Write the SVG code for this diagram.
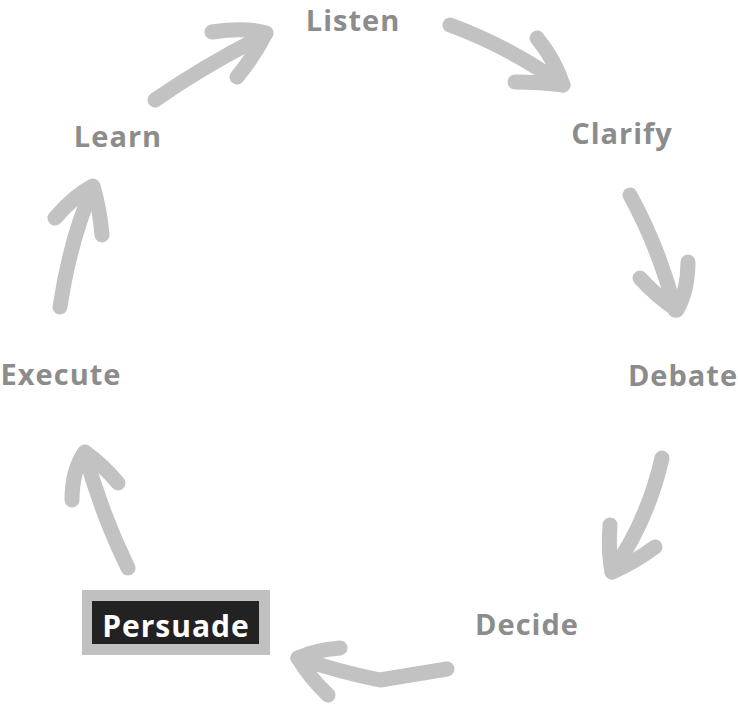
<svg xmlns="http://www.w3.org/2000/svg" width="738" height="704" viewBox="0 0 738 704">
<style>
.lbl{font-family:"Open Sans","Noto Sans","DejaVu Sans",sans-serif;font-weight:bold;font-size:29px;fill:#8c8c8c;letter-spacing:1px}
.arr{fill:none;stroke:#c2c2c2;stroke-width:15;stroke-linecap:round;stroke-linejoin:round}
</style>
<rect width="738" height="704" fill="#fff"/>
<g id="connectors">
  <g id="a1"><path class="arr" d="M155,100 Q205,65 265,35"/><path class="arr" d="M212,32 Q245,27 266,33 Q255,55 237,77"/></g>
  <g id="a2"><path class="arr" d="M450,25 Q510,47 563,85"/><path class="arr" d="M537,38 Q555,60 563,85 Q540,82 515,82"/></g>
  <g id="a3"><path class="arr" d="M630,195 Q660,250 675,310"/><path class="arr" d="M688,262 Q688,290 677,310 Q655,295 640,278"/></g>
  <g id="a4"><path class="arr" d="M662,458 Q648,520 612,572"/><path class="arr" d="M610,525 Q608,552 612,572 Q635,562 655,547"/></g>
  <g id="a5"><path class="arr" d="M447,669 L380,680 Q340,672 298,658"/><path class="arr" d="M340,648 Q315,650 298,658 Q310,678 328,695"/></g>
  <g id="a6"><path class="arr" d="M128,568 Q100,510 85,453"/><path class="arr" d="M72,500 Q72,470 85,452 Q103,465 118,483"/></g>
  <g id="a7"><path class="arr" d="M60,307 Q70,240 93,187"/><path class="arr" d="M55,218 Q75,195 93,186 Q100,210 102,235"/></g>
</g>
<g id="listen"><text class="lbl" x="353" y="31" text-anchor="middle">Listen</text></g>
<g id="clarify"><text class="lbl" x="622" y="144" text-anchor="middle">Clarify</text></g>
<g id="debate"><text class="lbl" x="683" y="386" text-anchor="middle">Debate</text></g>
<g id="decide"><text class="lbl" x="527" y="635" text-anchor="middle">Decide</text></g>
<g id="persuade">
  <rect x="82" y="590" width="188" height="65" fill="#c0c0c0"/>
  <rect x="92" y="601" width="167" height="43" fill="#222"/>
  <text x="176" y="637" text-anchor="middle" style="font-family:'Open Sans','Noto Sans','DejaVu Sans',sans-serif;font-weight:bold;font-size:30px;fill:#fff;letter-spacing:1px">Persuade</text>
</g>
<g id="execute"><text class="lbl" x="61" y="385" text-anchor="middle">Execute</text></g>
<g id="learn"><text class="lbl" x="118" y="147" text-anchor="middle">Learn</text></g>
</svg>
